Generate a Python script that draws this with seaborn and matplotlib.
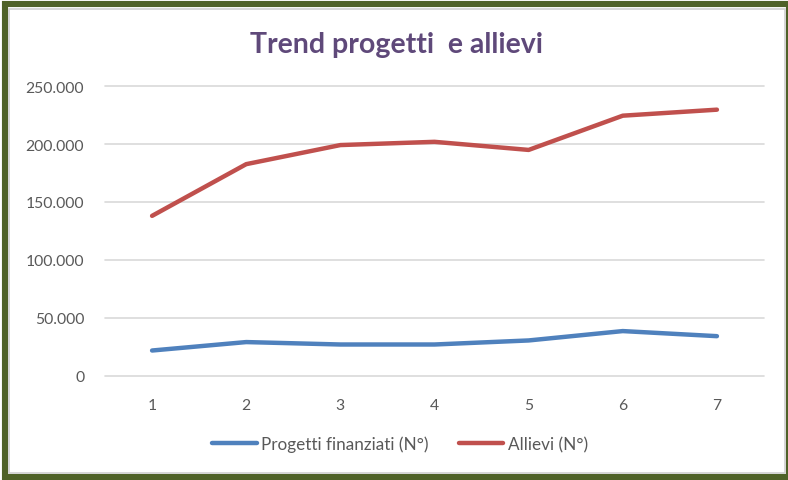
import matplotlib
matplotlib.use("Agg")
import pandas as pd
import seaborn as sns
import matplotlib.pyplot as plt
from matplotlib.patches import Rectangle
from matplotlib.ticker import FuncFormatter

# Data
anni = [1, 2, 3, 4, 5, 6, 7]
progetti = [21600, 28900, 26800, 26800, 30300, 38400, 34000]
allievi = [138000, 182700, 199200, 202000, 195000, 224600, 229800]
y_ticks = [0, 50000, 100000, 150000, 200000, 250000]

df = pd.DataFrame({
    "x": [str(a) for a in anni] * 2,
    "valore": progetti + allievi,
    "serie": ["Progetti finanziati (N°)"] * len(anni) + ["Allievi (N°)"] * len(anni),
})

sns.set_style("white")
plt.rcParams["font.family"] = ["Lato", "DejaVu Sans"]

W, H = 788, 481
fig = plt.figure(figsize=(W / 100, H / 100), dpi=100)
ax = fig.add_axes([105 / W, 1 - 376.5 / H, (764 - 105) / W, (376.5 - 87.3) / H])

sns.lineplot(data=df, x="x", y="valore", hue="serie", sort=False,
             palette={"Progetti finanziati (N°)": "#4F81BD", "Allievi (N°)": "#C0504D"},
             linewidth=3.2, ax=ax, legend=True)

ax.set_xlim(-0.5, 6.5)
ax.set_ylim(0, 250000)
ax.set_yticks(y_ticks)
ax.yaxis.set_major_formatter(FuncFormatter(lambda v, p: f"{int(v):,}".replace(",", ".")))
ax.grid(axis="y", color="#D9D9D9", linewidth=1.2)
for gl in ax.get_ygridlines():
    gl.set_clip_on(False)
ax.set_axisbelow(True)
for s in ax.spines.values():
    s.set_visible(False)
ax.tick_params(axis="both", colors="#595959", labelsize=11.3, length=0)
ax.tick_params(axis="y", pad=15)
ax.tick_params(axis="x", pad=16)
ax.set_xlabel("")
ax.set_ylabel("")

ax.get_legend().remove()
handles, labels = ax.get_legend_handles_labels()
leg = fig.legend(handles, labels, loc="center", bbox_to_anchor=(400 / W, 1 - 445 / H),
                 ncol=2, frameon=False, fontsize=12.3, handlelength=2.6,
                 handletextpad=0.25, columnspacing=1.8)
for t in leg.get_texts():
    t.set_color("#595959")

fig.text(397 / W, 1 - 45 / H, "Trend progetti  e allievi", ha="center", va="center",
         fontsize=20.5, fontweight="bold", color="#5F497A")

# green frame like the original sheet
fig.patches.append(Rectangle((5 / W, 3 / H), 784 / W, 473 / H, transform=fig.transFigure,
                             fill=False, edgecolor="#4F6228", linewidth=4.4))
fig.patches.append(Rectangle((9 / W, 7.5 / H), 776 / W, 464 / H, transform=fig.transFigure,
                             fill=False, edgecolor="#CFCFCF", linewidth=1.2))

fig.savefig("out.png", dpi=100)
